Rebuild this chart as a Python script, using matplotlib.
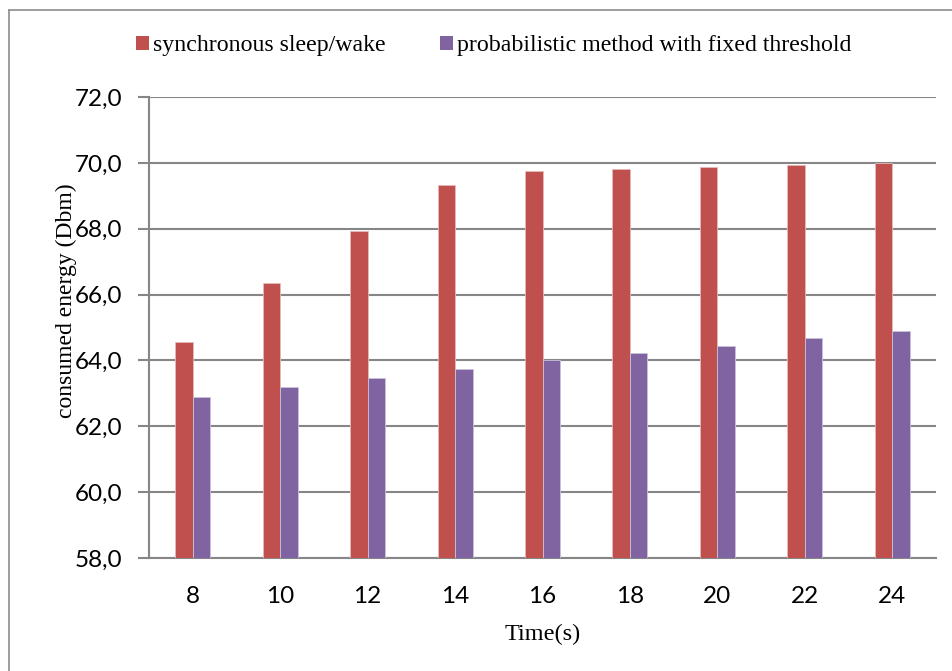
import matplotlib
matplotlib.use("Agg")
import matplotlib.pyplot as plt
from matplotlib.lines import Line2D
from matplotlib.patches import Patch
import numpy as np

# Simulation time (s) and consumed energy for both schemes
times = ["8", "10", "12", "14", "16", "18", "20", "22", "24"]
sync_sleep_wake = [64.57, 66.34, 67.92, 69.32, 69.74, 69.82, 69.88, 69.94, 70.01]
probabilistic_fixed = [62.90, 63.19, 63.48, 63.75, 64.00, 64.23, 64.45, 64.67, 64.89]
series_names = ["synchronous sleep/wake", "probabilistic method with fixed threshold"]
y_ticks = [58, 60, 62, 64, 66, 68, 70, 72]

RED = "#C0504D"
PURPLE = "#8064A2"
GRID = "#868686"
W, H = 952, 671

fig = plt.figure(figsize=(W / 100, H / 100), dpi=100)
ax = fig.add_axes([149 / W, 1 - 558 / H, (936 - 149) / W, (558 - 97) / H])

x = np.arange(len(times))
bw = 0.2
ax.bar(x - bw / 2, sync_sleep_wake, width=bw, color=RED, edgecolor="#E6B9B8",
       linewidth=0.6, zorder=3)
ax.bar(x + bw / 2, probabilistic_fixed, width=bw, color=PURPLE, edgecolor="#CCC1DA",
       linewidth=0.6, zorder=3)

ax.set_xlim(-0.5, len(times) - 0.5)
ax.set_ylim(58, 72)
ax.set_yticks(y_ticks)
ax.set_yticklabels([f"{v:.1f}".replace(".", ",") for v in y_ticks],
                   fontfamily="Lato", fontsize=17.5)
ax.set_xticks(x)
ax.set_xticklabels(times, fontfamily="Lato", fontsize=17.5)

ax.yaxis.grid(True, color=GRID, linewidth=1.5, zorder=0)
ax.set_axisbelow(True)
for side in ["top", "right"]:
    ax.spines[side].set_visible(False)
for side in ["left", "bottom"]:
    ax.spines[side].set_color(GRID)
    ax.spines[side].set_linewidth(1.5)
ax.tick_params(axis="y", length=8, width=1.5, color=GRID, pad=11)
ax.tick_params(axis="x", length=0, pad=20)

ax.set_xlabel("Time(s)", fontfamily="Liberation Serif", fontsize=17.5, labelpad=12)
ax.set_ylabel("consumed energy (Dbm)", fontfamily="Liberation Serif", fontsize=17)
ax.yaxis.set_label_coords((77 - 149) / (936 - 149), (558 - 301) / (558 - 97))

handles = [Patch(facecolor=RED, edgecolor="none"), Patch(facecolor=PURPLE, edgecolor="none")]
fig.legend(handles, series_names, loc="center", bbox_to_anchor=(493.5 / W, 1 - 46 / H),
           ncol=2, frameon=False, handlelength=0.55, handleheight=0.55,
           handletextpad=0.15, columnspacing=2.3,
           prop={"family": "Liberation Serif", "size": 17.2})

# Chart-area frame (left and top edges)
fig.add_artist(Line2D([8.5 / W, 8.5 / W], [0, 1 - 9.5 / H], color="#8C8C8C",
                      linewidth=1.2, transform=fig.transFigure))
fig.add_artist(Line2D([8.5 / W, 1], [1 - 9.5 / H, 1 - 9.5 / H], color="#8C8C8C",
                      linewidth=1.2, transform=fig.transFigure))

fig.savefig("out.png", dpi=100, facecolor="white")
